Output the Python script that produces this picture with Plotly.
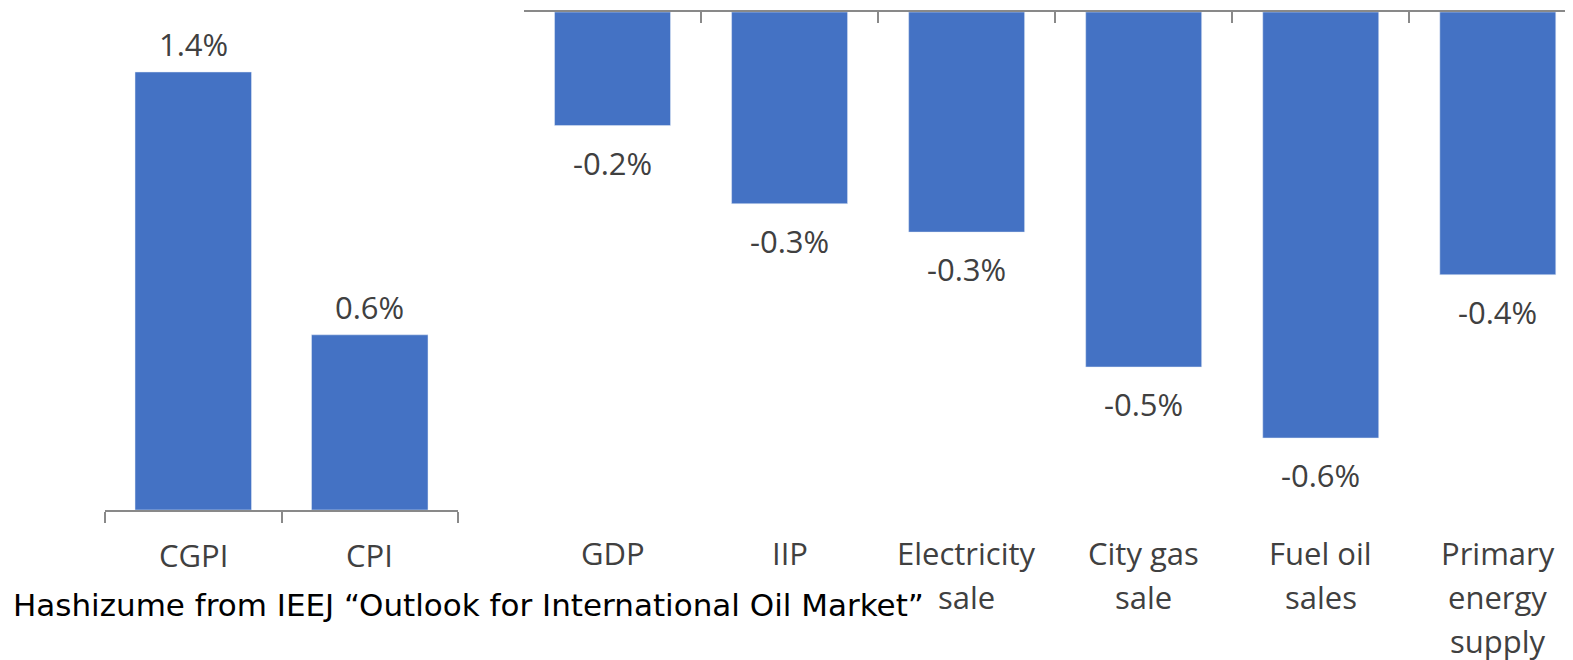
import plotly.graph_objects as go

# Data
price_cats = ["CGPI", "CPI"]
price_vals = [0.014, 0.0056]
energy_cats = ["GDP", "IIP", "Electricity sale", "City gas sale", "Fuel oil sales", "Primary energy supply"]
energy_vals = [-0.0016, -0.0027, -0.0031, -0.0050, -0.0060, -0.0037]
energy_tick_lines = [["GDP"], ["IIP"], ["Electricity", "sale"], ["City gas", "sale"],
                     ["Fuel oil", "sales"], ["Primary", "energy", "supply"]]
source_text = "Hashizume from IEEJ “Outlook for International Oil Market”"

W, H = 1573, 660
OFF = 8  # page body margin
BAR = "#4472C4"
TXT = "#404040"
AX = "#898989"
FONT = "Open Sans"
FS = 31

def px(xp):
    return (xp - OFF) / W

def py(yp):
    return 1 - (yp - OFF) / H

fig = go.Figure()
fig.add_trace(go.Bar(x=price_cats, y=price_vals, marker_color=BAR, xaxis="x", yaxis="y",
                     width=0.66, showlegend=False))
fig.add_trace(go.Bar(x=energy_cats, y=energy_vals, marker_color=BAR, xaxis="x2", yaxis="y2",
                     width=0.655, showlegend=False))

ann = []
for c, v in zip(price_cats, price_vals):
    ann.append(dict(x=c, y=v, xref="x", yref="y", text=f"{v*100:.1f}%", showarrow=False,
                    yanchor="bottom", yshift=5, font=dict(family=FONT, size=FS, color=TXT)))
for c, v in zip(energy_cats, energy_vals):
    ann.append(dict(x=c, y=v, xref="x2", yref="y2", text=f"{v*100:.1f}%", showarrow=False,
                    yanchor="top", yshift=-14, font=dict(family=FONT, size=FS, color=TXT)))
for c in price_cats:
    ann.append(dict(x=c, y=py(555), xref="x", yref="paper", text=c, showarrow=False,
                    yanchor="middle", font=dict(family=FONT, size=FS, color=TXT)))
for c, lines in zip(energy_cats, energy_tick_lines):
    for i, ln in enumerate(lines):
        ann.append(dict(x=c, y=py(553 + 44 * i), xref="x2", yref="paper", text=ln, showarrow=False,
                        yanchor="middle", font=dict(family=FONT, size=FS, color=TXT)))
ann.append(dict(x=px(11), y=py(605), xref="paper", yref="paper", text=source_text, showarrow=False,
                xanchor="left", yanchor="middle", font=dict(family="DejaVu Sans", size=31, color="#000000")))

# left axes: baseline at 510px, 0.014 at 72px
k_left = (510 - 72) / 0.014
y_top_left = 510 - 0.016 * k_left
# right axes: baseline at 12px, -0.006 at 438px
k_right = (438 - 12) / 0.006
y_bot_right = 12 + 0.007 * k_right

fig.update_layout(
    width=W, height=H,
    margin=dict(l=0, r=0, t=0, b=0),
    plot_bgcolor="white", paper_bgcolor="white",
    bargap=0.34,
    xaxis=dict(domain=[px(105), px(458)], range=[-0.5, 1.5], showline=True, linecolor=AX, linewidth=2,
               ticks="outside", tickson="boundaries", ticklen=11, tickcolor=AX, tickwidth=2,
               showticklabels=False, showgrid=False, anchor="y", fixedrange=True),
    yaxis=dict(domain=[py(510), py(y_top_left)], range=[0, 0.016], visible=False, anchor="x"),
    xaxis2=dict(domain=[px(524), 1.0], range=[-0.5, 5.47], showline=True, linecolor=AX, linewidth=2,
                side="top", ticks="inside", tickson="boundaries", ticklen=11, tickcolor=AX, tickwidth=2,
                showticklabels=False, showgrid=False, anchor="y2"),
    yaxis2=dict(domain=[py(y_bot_right), py(12)], range=[-0.007, 0], visible=False, anchor="x2"),
    annotations=ann,
)

fig.write_html("out.html")
